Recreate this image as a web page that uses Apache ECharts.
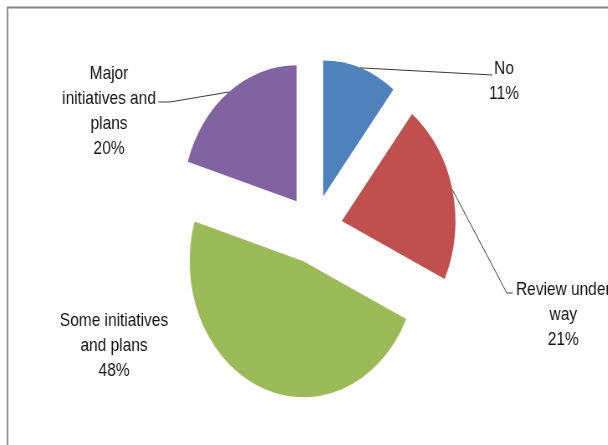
<!DOCTYPE html>
<html>
<head>
<meta charset="utf-8">
<script src="https://cdn.jsdelivr.net/npm/echarts@6/dist/echarts.min.js"></script>
<style>
  html, body { margin: 0; padding: 0; background: #fff; overflow: hidden; width: 608px; height: 445px; }
  #wrap { width: 608px; height: 445px; overflow: hidden; position: relative; }
  #c { position: absolute; left: 0; top: 0; height: 445px; transform-origin: 0 0; }
</style>
</head>
<body>
<div id="wrap"><div id="c"></div></div>
<script>
// ---- data ----
const categories = ['No', 'Review under\nway', 'Some initiatives\nand plans', 'Major\ninitiatives and\nplans'];
const values = [10.6, 21.4, 47.7, 20.3];
const colors = ['#4F81BD', '#C0504D', '#9BBB59', '#8064A2'];

// ---- layout / style ----
const SX = 0.836;                 // horizontal squeeze of the original picture
const PIE = { cx: 313.7 / SX, cy: 229, r: 136, explode: 34.5 };
const labelCenters = [[504, 81], [563.3, 315], [114, 346], [109, 111]];   // screen px
// leader line attachment relative to each label (chart units)
const leaders = [
  { side: -1, gap: -4, dy: -6, stub: 0 },
  { side: -1, gap: 4, dy: -22, stub: 7 },
  null,
  { side: 1, gap: 3, dy: -9, stub: 14 }
];
const FONT = { fontFamily: 'Liberation Sans', fontSize: 18.5, lineHeight: 25, color: '#111' };

const el = document.getElementById('c');
el.style.width = (608 / SX) + 'px';
el.style.transform = 'scaleX(' + SX + ')';

const chart = echarts.init(el, null, { renderer: 'canvas' });
const pieData = values.map((v, i) => ({ name: categories[i], value: v }));

chart.setOption({
  animation: false,
  backgroundColor: '#fff',
  graphic: [{
    type: 'rect', silent: true, z: 10,
    shape: { x: 7.5 / SX, y: 7.5, width: 2000, height: 2000 },
    style: { fill: 'none', stroke: '#868686', lineWidth: 1.8 }
  }],
  series: [{
    // exploded slices
    type: 'pie', z: 2,
    left: 0, top: 0, width: 3000, height: 3000,
    center: [PIE.cx, PIE.cy], radius: PIE.r,
    startAngle: 90, clockwise: true,
    selectedMode: 'multiple', selectedOffset: PIE.explode,
    emphasis: { disabled: true },
    label: { show: false }, labelLine: { show: false },
    data: pieData.map((d, i) => ({
      name: d.name, value: d.value, selected: true,
      itemStyle: { color: colors[i] },
      select: { itemStyle: { color: colors[i], borderWidth: 0 } }
    }))
  }, {
    // data labels with leader lines
    type: 'pie', z: 3, silent: true,
    left: 0, top: 0, width: 3000, height: 3000,
    center: [PIE.cx, PIE.cy], radius: PIE.r,
    startAngle: 90, clockwise: true,
    percentPrecision: 0,
    emphasis: { disabled: true },
    itemStyle: { color: 'rgba(0,0,0,0)', borderWidth: 0 },
    data: pieData.map((d, i) => ({
      name: d.name, value: d.value,
      labelLine: { show: leaders[i] !== null }
    })),
    label: Object.assign({
      show: true, position: 'outside', formatter: '{b}\n{d}%', align: 'center'
    }, FONT),
    labelLine: { show: true, length: 5, length2: 5, smooth: false,
      lineStyle: { color: '#3a3a3a', width: 1 } },
    labelLayout: p => {
      const i = p.dataIndex;
      const x = labelCenters[i][0] / SX, y = labelCenters[i][1];
      const out = { x: x, y: y, align: 'center', verticalAlign: 'middle' };
      const a = leaders[i];
      if (a && p.labelLinePoints) {
        const p0 = p.labelLinePoints[0];
        const k = (PIE.r + PIE.explode) / PIE.r;
        const start = [PIE.cx + (p0[0] - PIE.cx) * k, PIE.cy + (p0[1] - PIE.cy) * k];
        const ex = x + a.side * (p.labelRect.width / 2 + a.gap), ey = y + a.dy;
        out.labelLinePoints = [start, [ex + a.side * a.stub, ey], [ex, ey]];
      }
      return out;
    }
  }]
});
</script>
</body>
</html>
